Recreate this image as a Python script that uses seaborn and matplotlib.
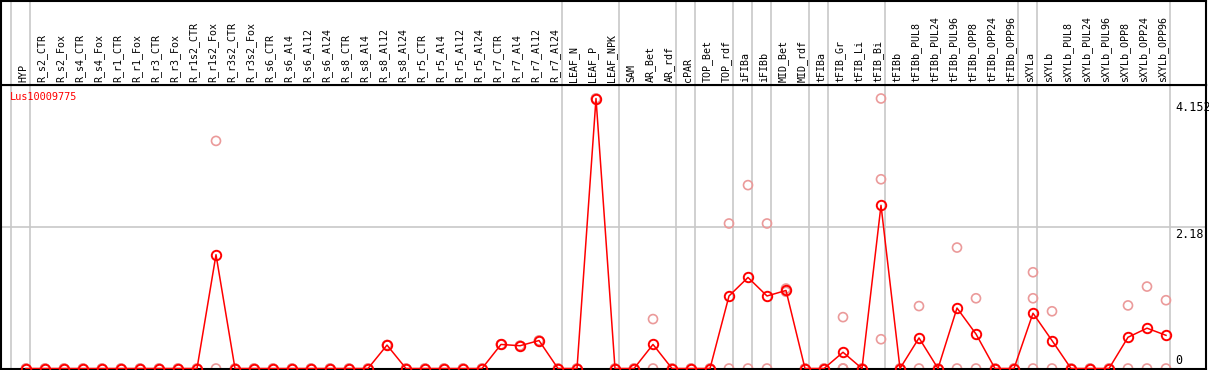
import matplotlib
matplotlib.use('Agg')
import matplotlib.pyplot as plt
import numpy as np
import pandas as pd
import seaborn as sns

nan = np.nan

categories = ['HYP', 'R_s2_CTR', 'R_s2_Fox', 'R_s4_CTR', 'R_s4_Fox', 'R_r1_CTR', 'R_r1_Fox',
              'R_r3_CTR', 'R_r3_Fox', 'R_r1s2_CTR', 'R_r1s2_Fox', 'R_r3s2_CTR', 'R_r3s2_Fox',
              'R_s6_CTR', 'R_s6_Al4', 'R_s6_Al12', 'R_s6_Al24', 'R_s8_CTR', 'R_s8_Al4',
              'R_s8_Al12', 'R_s8_Al24', 'R_r5_CTR', 'R_r5_Al4', 'R_r5_Al12', 'R_r5_Al24',
              'R_r7_CTR', 'R_r7_Al4', 'R_r7_Al12', 'R_r7_Al24', 'LEAF_N', 'LEAF_P', 'LEAF_NPK',
              'SAM', 'AR_Bet', 'AR_rdf', 'cPAR', 'TOP_Bet', 'TOP_rdf', 'iFIBa', 'iFIBb',
              'MID_Bet', 'MID_rdf', 'tFIBa', 'tFIB_Gr', 'tFIB_Li', 'tFIB_Bi', 'tFIBb',
              'tFIBb_PUL8', 'tFIBb_PUL24', 'tFIBb_PUL96', 'tFIBb_OPP8', 'tFIBb_OPP24',
              'tFIBb_OPP96', 'sXYLa', 'sXYLb', 'sXYLb_PUL8', 'sXYLb_PUL24', 'sXYLb_PUL96',
              'sXYLb_OPP8', 'sXYLb_OPP24', 'sXYLb_OPP96']

# mean expression per sample
mean_vals = [0, 0, 0, 0, 0, 0, 0, 0, 0, 0, 1.75, 0, 0,
             0, 0, 0, 0, 0, 0, 0.36, 0, 0, 0, 0, 0, 0.37, 0.35, 0.43, 0,
             0, 4.152, 0,
             0, 0.37, 0, 0, 0, 1.115, 1.40, 1.115, 1.20, 0,
             0, 0.25, 0, 2.51,
             0, 0.47, 0, 0.93, 0.53, 0, 0,
             0.85, 0.43, 0, 0, 0, 0.48, 0.62, 0.51]

# individual replicates
rep_a = [0, 0, 0, 0, 0, 0, 0, 0, 0, 0, 3.50, 0, 0,
         0, 0, 0, 0, 0, 0, 0.36, 0, 0, 0, 0, 0, 0.37, 0.35, 0.43, 0,
         0, 4.152, 0,
         0, 0.76, 0, 0, 0, 2.23, 2.82, 2.23, 1.23, 0,
         0, 0.79, 0, 4.152,
         0, 0.96, 0, 1.86, 1.08, 0, 0,
         1.48, 0.88, 0, 0, 0, 0.97, 1.26, 1.05]
rep_b = [0, 0, 0, 0, 0, 0, 0, 0, 0, 0, 0, 0, 0,
         0, 0, 0, 0, 0, 0, 0.36, 0, 0, 0, 0, 0, 0.37, 0.35, 0.43, 0,
         0, 4.152, 0,
         0, 0, 0, 0, 0, 0, 0, 0, 1.18, 0,
         0, 0, 0, 2.91,
         0, 0, 0, 0, 0, 0, 0,
         1.08, 0, 0, 0, 0, 0, 0, 0]
rep_c = [nan] * 43 + [0, nan, 0.45] + [nan] * 7 + [0] + [nan] * 7

separators = [-1, 0, 28, 31, 34, 35, 37, 38, 39, 41, 42, 45, 52, 53, 60]

ymax = 4.152 * 1.05
pos = np.arange(len(categories))
df = pd.DataFrame({'pos': pos, 'mean': mean_vals})
reps = pd.DataFrame({'pos': np.tile(pos, 3), 'val': rep_a + rep_b + rep_c}).dropna()

W, H = 1209, 370
fig = plt.figure(figsize=(W / 100, H / 100), dpi=100)
ax = fig.add_axes([1 / W, 1.5 / H, 1205 / W, 283.5 / H])
lab = fig.add_axes([1 / W, 285 / H, 1205 / W, 84 / H])

xl = ((1 - 26) / 19, (1206 - 26) / 19)
gray = '#c8c8c8'
for a in (ax, lab):
    a.set_xlim(*xl)
    for s in separators:
        a.axvline(s + 4 / 19, color=gray, lw=1.2, zorder=0)
    a.set_xticks([])
    a.set_yticks([])
    for sp in a.spines.values():
        sp.set_color('black')
        sp.set_linewidth(1.5)
lab.set_ylim(0, 1)
ax.set_ylim(0, ymax)
ax.axhline(ymax / 2, color=gray, lw=1.2, zorder=0)

sns.scatterplot(data=reps, x='pos', y='val', ax=ax, marker='o', s=42,
                facecolors='none', edgecolor='#eb9a9a', linewidth=1.2, zorder=2, legend=False)
sns.lineplot(data=df, x='pos', y='mean', ax=ax, color='red', lw=1.1, marker='o', ms=6.8,
             mfc='none', mec='red', mew=1.4, zorder=3, legend=False)
ax.set_xlabel('')
ax.set_ylabel('')

mono = 'DejaVu Sans Mono'
for i, c in enumerate(categories):
    lab.text(i - 3 / 19, 0.03, c, rotation=90, ha='center', va='bottom',
             family=mono, fontsize=7.2)

ax.text((10 - 26) / 19, 4.152 + 0.02, 'Lus10009775', color='red', family=mono,
        fontsize=7.4, va='center', ha='left')
xr = (1175 - 26) / 19
ax.text(xr, 4.152 - 0.04, '4.152', family=mono, fontsize=8.5, va='top', ha='left')
ax.text(xr, ymax / 2 - 0.02, '2.18', family=mono, fontsize=8.5, va='top', ha='left')
ax.text(xr, 0.03, '0', family=mono, fontsize=8.5, va='bottom', ha='left')

fig.savefig('out.png', dpi=100)
